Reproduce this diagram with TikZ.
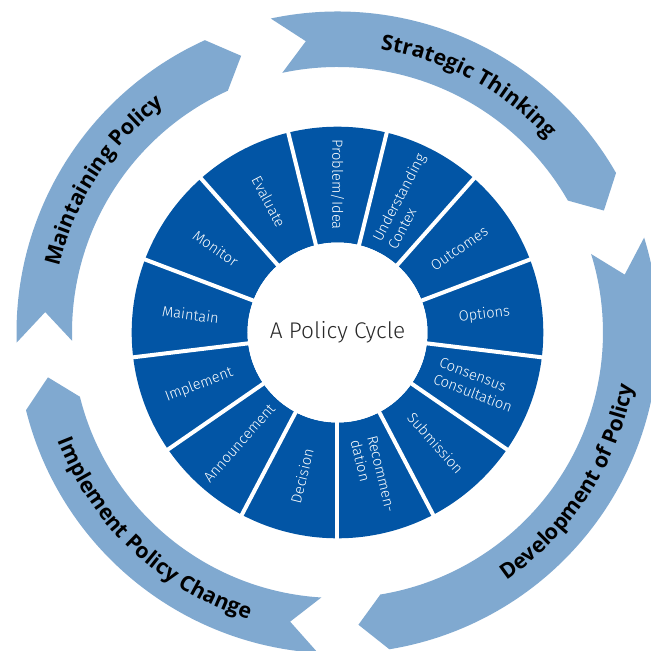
\documentclass[tikz,border=0pt]{standalone}
\usepackage{fontspec}
\usetikzlibrary{decorations.text}
\IfFontExistsTF{Fira Sans Light}
  {\newfontfamily\segfont{Fira Sans Light}}
  {\newfontfamily\segfont{Open Sans}}
\newfontfamily\bandfont{Open Sans}
\definecolor{segblue}{RGB}{2,85,165}
\definecolor{bandblue}{RGB}{128,169,208}
\definecolor{titlegray}{RGB}{40,40,40}

\begin{document}
\begin{tikzpicture}[x=0.75pt,y=0.75pt,
  seglabel/.style={text=white, font=\segfont\fontsize{11}{13}\selectfont,
                   align=left, inner sep=0pt},
  centertitle/.style={text=titlegray, font=\segfont\fontsize{17}{20}\selectfont,
                      inner sep=0pt},
  gap/.style={draw=white, line width=3pt},
  band/.style={fill=bandblue}]
  % canvas
  \clip (-337.5,-318.5) rectangle (313.5,332.5);
  \fill[white] (-337.5,-318.5) rectangle (313.5,332.5);

  % radii of the outer arrow bands
  \def\Ri{265.5}\def\Ro{321}\def\Rm{293}
  \def\dh{5.2}\def\dn{5.8}
  % one curved chevron arrow, running clockwise from tail #1 to head #2
  \newcommand\cyclearrow[2]{%
    \fill[band] (#1:\Ro) arc[start angle=#1, end angle=#2, radius=\Ro]
      -- ({#2-\dh}:\Rm) -- (#2:\Ri)
      arc[start angle=#2, end angle=#1, radius=\Ri]
      -- ({#1-\dn}:\Rm) -- cycle;}
  \cyclearrow{102}{29.8}
  \cyclearrow{17.2}{-80.7}
  \cyclearrow{-93.5}{-166}
  \cyclearrow{181.8}{114.4}

  % band captions (top half clockwise, bottom half counter-clockwise)
  \def\bandtext{|\bandfont\bfseries\fontsize{16}{19}\selectfont|}
  \path[decorate, decoration={text along path, text align=center,
      text={\bandtext Strategic Thinking}}]
    (112:286) arc[start angle=112, end angle=12, radius=286];
  \path[decorate, decoration={text along path, text align=center,
      text={\bandtext Maintaining Policy}}]
    (197:286) arc[start angle=197, end angle=97, radius=286];
  \path[decorate, decoration={text along path, text align=center,
      text={\bandtext Development of Policy}}]
    (-83:300) arc[start angle=-83, end angle=17, radius=300];
  \path[decorate, decoration={text along path, text align=center,
      text={\bandtext Implement Policy Change}}]
    (177:300) arc[start angle=177, end angle=277, radius=300];

  % segment ring with white separators
  \fill[segblue, even odd rule] (0,0) circle[radius=205.8] (0,0) circle[radius=90];
  \foreach \i in {0,...,12}
    \draw[gap] ({103.846+\i*27.6923}:85) -- ({103.846+\i*27.6923}:210);
  \fill[white] (0,0) circle[radius=90];

  % segment labels
  \def\rl{148}
  \node[seglabel, rotate=-90]     (problem)   at (90:\rl)      {Problem/Idea};
  \node[seglabel, rotate=62.31]   (context)   at (62.31:\rl)   {Understanding\\Contex};
  \node[seglabel, rotate=34.62]   (outcomes)  at (34.62:\rl)   {Outcomes};
  \node[seglabel, rotate=6.92]    (options)   at (6.92:\rl)    {Options};
  \node[seglabel, rotate=-20.77]  (consensus) at (-20.77:\rl)  {Consensus\\Consultation};
  \node[seglabel, rotate=-48.46]  (submit)    at (-48.46:\rl)  {Submission};
  \node[seglabel, rotate=-76.15]  (recommend) at (-76.15:\rl)  {Recommen-\\dation};
  \node[seglabel, rotate=76.15]   (decision)  at (-103.85:\rl) {Decision};
  \node[seglabel, rotate=48.46]   (announce)  at (-131.54:\rl) {Announcement};
  \node[seglabel, rotate=20.77]   (implement) at (-159.23:\rl) {Implement};
  \node[seglabel, rotate=-6.92]   (maintain)  at (173.08:\rl)  {Maintain};
  \node[seglabel, rotate=-34.62]  (monitor)   at (145.38:\rl)  {Monitor};
  \node[seglabel, rotate=-62.31]  (evaluate)  at (117.69:\rl)  {Evaluate};

  % centre
  \node[centertitle] (title) at (0,0) {A Policy Cycle};
\end{tikzpicture}
\end{document}
